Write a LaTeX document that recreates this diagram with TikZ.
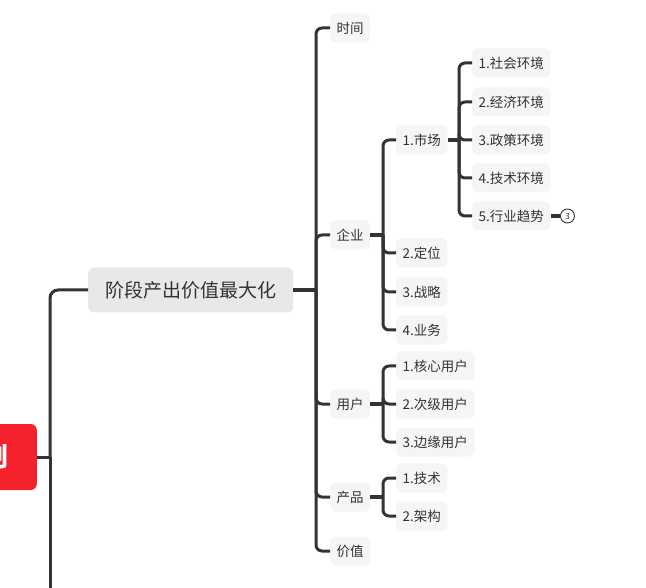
\documentclass[tikz,border=0pt]{standalone}
\usepackage{fontspec}
\setmainfont{Noto Sans CJK SC}
\definecolor{lnc}{HTML}{333333}
\definecolor{txc}{HTML}{333333}
\definecolor{subfill}{HTML}{F5F5F5}
\definecolor{mainfill}{HTML}{E8E8E8}
\definecolor{rootred}{HTML}{F5222D}
\tikzset{
  leaf/.style={fill=subfill, rounded corners=5pt, inner xsep=6.5pt, inner ysep=0pt,
    minimum height=29pt, text=txc, font=\fontsize{13.5}{15}\selectfont, anchor=west},
  mainbox/.style={fill=mainfill, rounded corners=6pt, inner xsep=17pt, inner ysep=0pt,
    minimum height=45pt, text=txc, font=\fontsize{19}{22}\selectfont, anchor=west},
  conn/.style={draw=lnc, line width=3pt},
  stub/.style={draw=lnc, line width=3.8pt},
  br/.style={conn, rounded corners=6pt},
}
\begin{document}
\begin{tikzpicture}[x=1pt,y=-1pt]
\useasboundingbox (0,0) rectangle (646,588);
\clip (0,0) rectangle (646,588);
% root
\node[fill=rootred, rounded corners=6pt, minimum height=66pt,
  text=white, font=\bfseries\fontsize{26}{28}\selectfont, anchor=east,
  inner xsep=28pt] (root) at (37,457) {划};
\coordinate (rv) at (50,457);
\coordinate (rdown) at (50,620);
% main
\node[mainbox] (main) at (88,290) {阶段产出价值最大化};
\draw[conn] (root.east) -- (rv);
\draw[conn, rounded corners=8pt] (rv) |- (main.west);
\draw[conn] (rv) -- (rdown);
% level 2
\node[leaf] (t) at (330,28) {时间};
\node[leaf] (q) at (330,235) {企业};
\node[leaf] (u) at (330,404) {用户};
\node[leaf] (p) at (330,497) {产品};
\node[leaf] (v) at (330,551) {价值};
\coordinate (mv) at (316,290);
\draw[stub] (main.east) -- (mv);
\foreach \c in {t,q,u,p,v} \draw[br] (mv) |- (\c.west);
% enterprise
\node[leaf] (q1) at (396,140) {1.市场};
\node[leaf] (q2) at (396,253) {2.定位};
\node[leaf] (q3) at (396,292) {3.战略};
\node[leaf] (q4) at (396,330) {4.业务};
\coordinate (qv) at (383,235);
\draw[stub] (q.east) -- (qv);
\foreach \c in {q1,q2,q3,q4} \draw[br] (qv) |- (\c.west);
% market
\node[leaf] (m1) at (472,63) {1.社会环境};
\node[leaf] (m2) at (472,102) {2.经济环境};
\node[leaf] (m3) at (472,140) {3.政策环境};
\node[leaf] (m4) at (472,178) {4.技术环境};
\node[leaf] (m5) at (472,216) {5.行业趋势};
\coordinate (mkv) at (459,140);
\draw[stub] (q1.east) -- (mkv);
\foreach \c in {m1,m2,m3,m4,m5} \draw[br] (mkv) |- (\c.west);
% collapse marker
\node[circle, draw=lnc, line width=0.9pt, fill=white, minimum size=14pt, inner sep=0pt,
  font=\fontsize{8.5}{9}\selectfont, text=txc, anchor=west] (cm) at (560,216) {3};
\draw[stub] (m5.east) -- (cm.west);
% users
\node[leaf] (u1) at (396,366) {1.核心用户};
\node[leaf] (u2) at (396,404) {2.次级用户};
\node[leaf] (u3) at (396,442) {3.边缘用户};
\coordinate (uv) at (383,404);
\draw[stub] (u.east) -- (uv);
\foreach \c in {u1,u2,u3} \draw[br] (uv) |- (\c.west);
% product
\node[leaf] (p1) at (396,478) {1.技术};
\node[leaf] (p2) at (396,516) {2.架构};
\coordinate (pv) at (383,497);
\draw[stub] (p.east) -- (pv);
\foreach \c in {p1,p2} \draw[br] (pv) |- (\c.west);
\end{tikzpicture}
\end{document}
